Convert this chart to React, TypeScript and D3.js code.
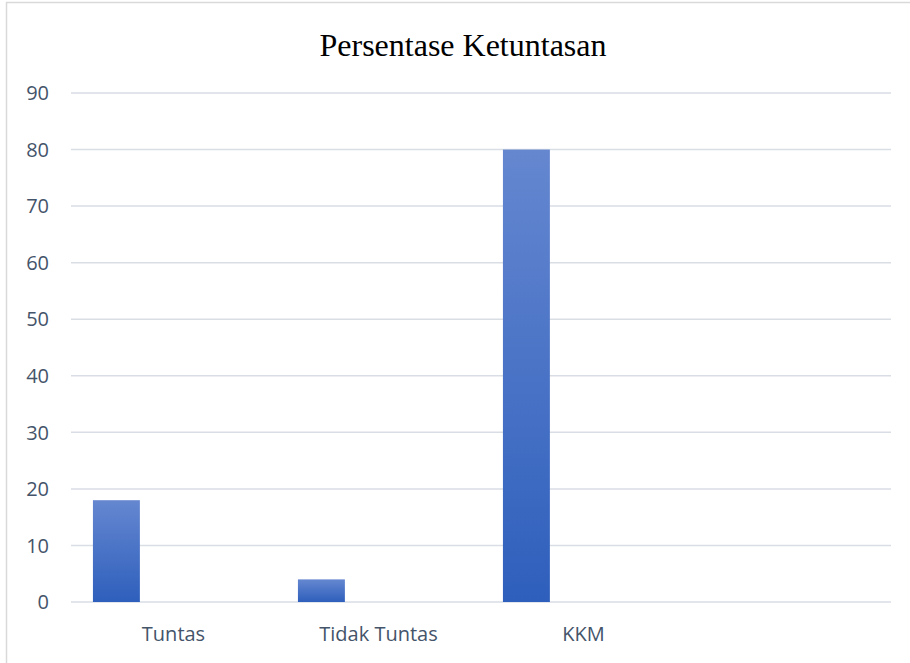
import React from "react";
import * as d3 from "d3";

const title = "Persentase Ketuntasan";
const categories = ["Tuntas", "Tidak Tuntas", "KKM", ""];
const values = [18, 4, 80, null as number | null];
const yTicks = [0, 10, 20, 30, 40, 50, 60, 70, 80, 90];

const W = 910;
const H = 663;
const margin = { left: 71, right: 19, top: 93, bottom: 61 };

export default function App() {
  const x = d3
    .scaleBand<string>()
    .domain(categories.map((c, i) => String(i)))
    .range([margin.left, W - margin.right])
    .padding(0);
  const y = d3
    .scaleLinear()
    .domain([0, 90])
    .range([H - margin.bottom, margin.top]);
  const bw = x.bandwidth();
  const barOffset = bw * 0.107;
  const barWidth = bw * 0.229;
  const font = "'Open Sans', Calibri, Carlito, sans-serif";
  const textColor = "#44546a";

  return (
    <svg
      width={W}
      height={H}
      style={{ position: "absolute", left: 0, top: 0, background: "#fff" }}
    >
      <defs>
        <linearGradient id="barGrad" x1="0" y1="0" x2="0" y2="1">
          <stop offset="0%" stopColor="#6587d0" />
          <stop offset="100%" stopColor="#2e5fbc" />
        </linearGradient>
      </defs>
      <rect x={6.5} y={2.5} width={W + 10} height={H + 10} fill="#fff" stroke="#d9d9d9" strokeWidth={1.5} />
      <text
        x={463}
        y={56}
        textAnchor="middle"
        fontFamily="'Liberation Serif', 'Times New Roman', serif"
        fontSize={32}
        fill="#000"
      >
        {title}
      </text>
      {yTicks.map((t) => (
        <g key={t}>
          <line
            x1={margin.left}
            x2={W - margin.right}
            y1={y(t)}
            y2={y(t)}
            stroke="#d9dde4"
            strokeWidth={1.5}
          />
          <text
            x={49}
            y={y(t)}
            dy="0.36em"
            textAnchor="end"
            fontFamily={font}
            fontSize={20}
            fill={textColor}
          >
            {t}
          </text>
        </g>
      ))}
      {values.map((v, i) =>
        v == null ? null : (
          <rect
            key={i}
            x={(x(String(i)) as number) + barOffset}
            width={barWidth}
            y={y(v)}
            height={y(0) - y(v)}
            fill="url(#barGrad)"
          />
        )
      )}
      {categories.map((c, i) => (
        <text
          key={i}
          x={(x(String(i)) as number) + bw / 2}
          y={641}
          textAnchor="middle"
          fontFamily={font}
          fontSize={20}
          fill={textColor}
        >
          {c}
        </text>
      ))}
    </svg>
  );
}
